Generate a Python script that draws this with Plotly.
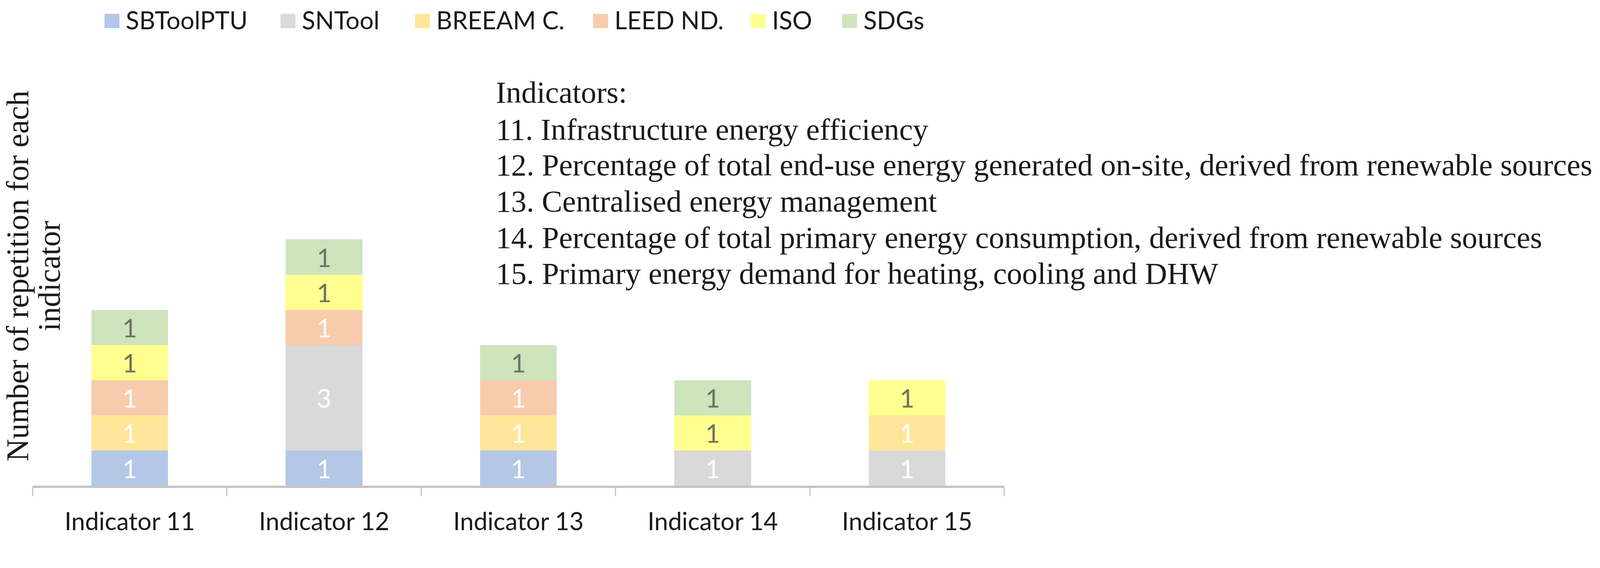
import plotly.graph_objects as go

# ---------------- data ----------------
categories = ["Indicator 11", "Indicator 12", "Indicator 13", "Indicator 14", "Indicator 15"]
series_names = ["SBToolPTU", "SNTool", "BREEAM C.", "LEED ND.", "ISO", "SDGs"]
sbtoolptu = [1, 1, 1, None, None]
sntool = [None, 3, None, 1, 1]
breeam_c = [1, None, 1, None, 1]
leed_nd = [1, 1, 1, None, None]
iso = [1, 1, None, 1, 1]
sdgs = [1, 1, 1, 1, None]
series_values = [sbtoolptu, sntool, breeam_c, leed_nd, iso, sdgs]

y_title_lines = ["Number of repetition for each", "indicator"]
indicator_lines = [
    "Indicators:",
    "11. Infrastructure energy efficiency",
    "12. Percentage of total end-use energy generated on-site, derived from renewable sources",
    "13. Centralised energy management",
    "14. Percentage of total primary energy consumption, derived from renewable sources",
    "15. Primary energy demand for heating, cooling and DHW",
]

# ---------------- style ----------------
colors = ["#B4C7E7", "#D9D9D9", "#FFE699", "#F8CBAD", "#FFFF8F", "#CDE4BD"]
label_colors = ["#FFFFFF", "#FFFFFF", "#FFFFFF", "#FFFFFF", "#6F7262", "#6F7262"]
SANS = "Lato, 'Open Sans', sans-serif"
SERIF = "'Liberation Serif', 'DejaVu Serif', serif"

W, H = 4273, 1455
L, R = 87, 2682          # plot area left/right (px)
TOP, BOT = 90, 1298      # plot area top/bottom (px)
UNIT = 94.0              # px per count
PW, PH = R - L, BOT - TOP


def px2x(px):
    return (px - L) / PW


def py2y(py):
    return (BOT - py) / PH


fig = go.Figure()
for name, vals, col, lcol in zip(series_names, series_values, colors, label_colors):
    fig.add_trace(go.Bar(
        name=name, x=categories, y=vals, marker=dict(color=col, line=dict(width=0)),
        text=[("" if v is None else str(v)) for v in vals],
        textposition="inside", insidetextanchor="middle", textangle=0,
        textfont=dict(family=SANS, size=68, color=lcol),
        hoverinfo="skip",
    ))

annotations = []
shapes = []

# legend (manual, to get large swatches)
legend_x = [279, 749, 1108, 1584, 2005, 2249]
for name, col, lx in zip(series_names, colors, legend_x):
    shapes.append(dict(type="rect", xref="paper", yref="paper",
                       x0=px2x(lx), x1=px2x(lx + 40), y0=py2y(75), y1=py2y(37),
                       fillcolor=col, line=dict(width=0)))
    annotations.append(dict(xref="paper", yref="paper", x=px2x(lx + 55), y=py2y(53),
                            xanchor="left", yanchor="middle", showarrow=False,
                            text=name, font=dict(family=SANS, size=66, color="#1a1a1a")))

# indicator description block (line centres, px)
IND_SIZE = 82
ind_centres = [246, 345, 441, 537, 634, 730]
for line, cy in zip(indicator_lines, ind_centres):
    annotations.append(dict(xref="paper", yref="paper", x=px2x(1322), y=py2y(cy),
                            xanchor="left", yanchor="middle", showarrow=False,
                            text=line, font=dict(family=SERIF, size=IND_SIZE, color="#1a1a1a")))

# y-axis title (two rotated lines)
for line, cx in zip(y_title_lines, [47, 132]):
    annotations.append(dict(xref="paper", yref="paper", x=px2x(cx), y=py2y(738),
                            xanchor="center", yanchor="middle", showarrow=False,
                            textangle=-90, text=line,
                            font=dict(family=SERIF, size=83, color="#1a1a1a")))

fig.update_layout(
    width=W, height=H,
    margin=dict(l=L, r=W - R, t=TOP, b=H - BOT, autoexpand=False),
    barmode="stack", bargap=0.605,
    plot_bgcolor="white", paper_bgcolor="white",
    showlegend=False,
    uniformtext=dict(mode="show", minsize=68),
    annotations=annotations, shapes=shapes,
    xaxis=dict(
        showline=True, linecolor="#C4C4C4", linewidth=6,
        ticks="outside", tickson="boundaries", ticklen=22, tickwidth=3, tickcolor="#C4C4C4",
        tickfont=dict(family=SANS, size=66, color="#1a1a1a"),
        ticklabelstandoff=34,
        showgrid=False, zeroline=False,
    ),
    yaxis=dict(range=[0, PH / UNIT], visible=False, showgrid=False, zeroline=False),
)

fit_js = (
    "document.documentElement.style.margin='0';"
    "document.body.style.margin='0';document.body.style.overflow='hidden';"
    "var d=document.getElementById('{plot_id}');"
    "var s=Math.min(window.innerWidth/%d, window.innerHeight/%d);"
    "d.style.transformOrigin='0 0';d.style.transform='scale('+s+')';" % (W, H)
)
fig.write_html("out.html", config={"displayModeBar": False}, post_script=fit_js)
